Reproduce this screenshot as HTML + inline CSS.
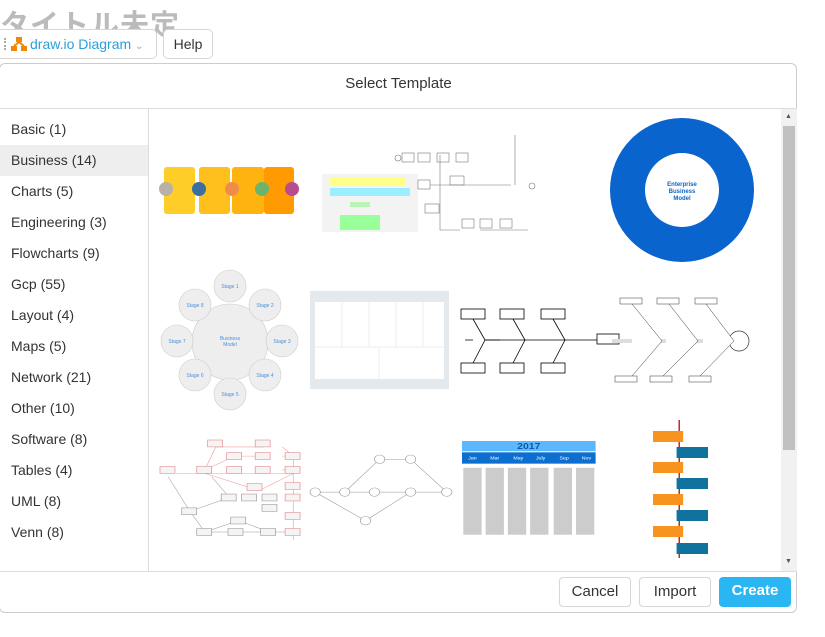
<!DOCTYPE html>
<html><head><meta charset="utf-8"><style>
*{margin:0;padding:0;box-sizing:border-box}
body{width:825px;height:637px;background:#fff;font-family:"Liberation Sans","Noto Sans CJK JP",sans-serif;position:relative;overflow:hidden}
.a{position:absolute}
.title{left:0;top:2px;font-size:29px;font-weight:bold;color:#bbb;letter-spacing:1px}
.btn{border:1px solid #d6d6d6;border-radius:5px;background:#fff}
.side div{height:31px;line-height:31px;padding-left:11px;font-size:14px;color:#333}
.fb{top:577px;height:30px;font-size:15px;text-align:center;line-height:28px;border-radius:4px}
</style></head><body>
<div class="a title">タイトル未定</div>
<div class="a btn" style="left:-6px;top:29px;width:163px;height:30px"></div>
<div class="a" style="left:4px;top:38px;width:2px;height:12px;border-left:2px dotted #aaa"></div>
<svg class="a" style="left:11px;top:37px" width="16" height="14"><rect x="5" y="0" width="6" height="5" fill="#f08705"/><rect x="0" y="9" width="6" height="5" fill="#f08705"/><rect x="10" y="9" width="6" height="5" fill="#f08705"/><path d="M8 5L3 9M8 5L13 9" stroke="#f08705" stroke-width="2"/></svg>
<div class="a" style="left:30px;top:36px;font-size:14px;color:#29a0da">draw.io Diagram <span style="color:#aaa;font-size:10px">&#8964;</span></div>
<div class="a btn" style="left:163px;top:29px;width:50px;height:30px;font-size:14px;line-height:28px;text-align:center;color:#333">Help</div>

<div class="a" style="left:-1px;top:63px;width:798px;height:550px;border:1px solid #ccc;border-radius:6px"></div>
<div class="a" style="left:0;top:75px;width:797px;text-align:center;font-size:15px;color:#333">Select Template</div>
<div class="a" style="left:0;top:108px;width:797px;border-top:1px solid #ddd"></div>
<div class="a" style="left:148px;top:109px;height:462px;border-left:1px solid #ddd"></div>
<div class="a" style="left:0;top:571px;width:797px;border-top:1px solid #ddd"></div>
<div class="a side" style="left:0;top:114px;width:148px">
<div>Basic (1)</div><div style="background:#eee">Business (14)</div><div>Charts (5)</div><div>Engineering (3)</div><div>Flowcharts (9)</div><div>Gcp (55)</div><div>Layout (4)</div><div>Maps (5)</div><div>Network (21)</div><div>Other (10)</div><div>Software (8)</div><div>Tables (4)</div><div>UML (8)</div><div>Venn (8)</div></div>
<div class="a" style="left:781px;top:109px;width:16px;height:462px;background:#f1f1f1"></div>
<div class="a" style="left:783px;top:126px;width:12px;height:324px;background:#c1c1c1"></div>
<div class="a" style="left:785px;top:113px;font-size:7px;color:#555">&#9650;</div>
<div class="a" style="left:785px;top:558px;font-size:7px;color:#555">&#9660;</div>

<svg class="a" style="left:150px;top:110px" width="630" height="460" font-family="Liberation Sans" font-size="4">
<!-- row1 -->
<rect x="14" y="57" width="31" height="47" rx="3" fill="#ffcd28"/><rect x="49" y="57" width="31" height="47" rx="3" fill="#ffc01e"/><rect x="82" y="57" width="32" height="47" rx="3" fill="#ffb30f"/><rect x="114" y="57" width="30" height="47" rx="3" fill="#ff9a00"/>
<circle cx="16" cy="79" r="7" fill="#b9b0a6"/><circle cx="49" cy="79" r="7" fill="#3a6fa0"/><circle cx="82" cy="79" r="7" fill="#ef8c4a"/><circle cx="112" cy="79" r="7" fill="#6cb46c"/><circle cx="142" cy="79" r="7" fill="#b94b8f"/>
<rect x="172" y="64" width="96" height="58" fill="#f3f3f3"/><rect x="180" y="67" width="76" height="8" fill="#ffff88"/><rect x="180" y="78" width="80" height="8" fill="#99eeff"/><rect x="190" y="105" width="40" height="15" fill="#99ff99"/><rect x="200" y="92" width="20" height="5" fill="#b6f5b6"/>
<g fill="none" stroke="#777" stroke-width=".6"><circle cx="248" cy="48" r="3"/><rect x="252" y="43" width="12" height="9"/><rect x="268" y="43" width="12" height="9"/><rect x="268" y="70" width="12" height="9"/><rect x="287" y="43" width="12" height="9"/><rect x="306" y="43" width="12" height="9"/><path d="M280 75H361M365 75V25M290 45V120H310M330 120H378"/><rect x="300" y="66" width="14" height="9"/><rect x="312" y="109" width="12" height="9"/><rect x="330" y="109" width="12" height="9"/><rect x="350" y="109" width="12" height="9"/><rect x="275" y="94" width="14" height="9"/><circle cx="382" cy="76" r="3"/></g>
<circle cx="532" cy="80" r="72" fill="#0a64cd"/><circle cx="532" cy="80" r="37" fill="#fff"/>
<text x="532" y="76" fill="#0a64cd" font-size="6" font-weight="bold" text-anchor="middle">Enterprise</text><text x="532" y="83" fill="#0a64cd" font-size="6" font-weight="bold" text-anchor="middle">Business</text><text x="532" y="90" fill="#0a64cd" font-size="6" font-weight="bold" text-anchor="middle">Model</text>
<!-- row2 -->
<g fill="#eee" stroke="#ccc" stroke-width=".6"><circle cx="80" cy="232" r="38"/><circle cx="80" cy="176" r="16"/><circle cx="115" cy="195" r="16"/><circle cx="132" cy="231" r="16"/><circle cx="115" cy="265" r="16"/><circle cx="80" cy="284" r="16"/><circle cx="45" cy="265" r="16"/><circle cx="27" cy="231" r="16"/><circle cx="45" cy="195" r="16"/></g>
<g fill="#4a90d9" text-anchor="middle" font-size="5"><text x="80" y="178">Stage 1</text><text x="115" y="197">Stage 2</text><text x="132" y="233">Stage 3</text><text x="115" y="267">Stage 4</text><text x="80" y="286">Stage 5</text><text x="45" y="267">Stage 6</text><text x="27" y="233">Stage 7</text><text x="45" y="197">Stage 8</text><text x="80" y="230">Business</text><text x="80" y="236">Model</text></g>
<rect x="160" y="181" width="139" height="98" fill="#e4e9ed"/><rect x="165" y="192" width="129" height="77" fill="#fff"/>
<g stroke="#ddd" stroke-width=".5"><path d="M192 192V237M219 192V237M246 192V237M273 192V237M165 237H294M229 237V269"/></g>
<g stroke="#000" stroke-width=".8" fill="#fff"><path d="M315 230H350"/><rect x="447" y="224" width="22" height="10"/><rect x="311" y="199" width="24" height="10"/><rect x="350" y="199" width="24" height="10"/><rect x="391" y="199" width="24" height="10"/><rect x="311" y="253" width="24" height="10"/><rect x="350" y="253" width="24" height="10"/><rect x="391" y="253" width="24" height="10"/><path d="M323 209L335 230L323 253M363 209L375 230L363 253M403 209L415 230L403 253M335 230H447"/></g>
<rect x="462" y="229" width="130" height="4" fill="#ddd"/><circle cx="589" cy="231" r="10" fill="#fff" stroke="#333" stroke-width=".7"/>
<g fill="#fff" stroke="#333" stroke-width=".5"><rect x="470" y="188" width="22" height="6"/><rect x="507" y="188" width="22" height="6"/><rect x="545" y="188" width="22" height="6"/><rect x="465" y="266" width="22" height="6"/><rect x="500" y="266" width="22" height="6"/><rect x="539" y="266" width="22" height="6"/><path d="M482 194L512 231L482 266M519 194L548 231L513 266M556 194L584 231L550 266"/></g>
<!-- row3 pert -->
<g transform="translate(10,330) scale(1.36,1.15) translate(-7,-333)">
<g stroke="#f4a0a0" stroke-width=".5" fill="none"><path d="M19 362H40M40 359L48 339H83M40 359L62 347H83M40 362H105M40 362L80 377L105 362M97 339L105 347M97 347H105M97 359H105M105 350V420"/></g>
<g stroke="#999" stroke-width=".4" fill="none"><path d="M13 365L29 395M29 395L58 383M29 395L40 413M40 413L65 403L87 413M40 413H105M45 365L58 383"/></g>
<g fill="#f4f4f4" stroke="#e08a8a" stroke-width=".5">
<rect x="7" y="356" width="11" height="6"/><rect x="42" y="333" width="11" height="6"/><rect x="77" y="333" width="11" height="6"/><rect x="56" y="344" width="11" height="6"/><rect x="77" y="344" width="11" height="6"/><rect x="99" y="344" width="11" height="6"/><rect x="34" y="356" width="11" height="6"/><rect x="56" y="356" width="11" height="6"/><rect x="77" y="356" width="11" height="6"/><rect x="99" y="356" width="11" height="6"/><rect x="71" y="371" width="11" height="6"/><rect x="99" y="370" width="11" height="6"/><rect x="99" y="380" width="11" height="6"/><rect x="99" y="396" width="11" height="6"/><rect x="99" y="410" width="11" height="6"/></g>
<g fill="#f4f4f4" stroke="#999" stroke-width=".5">
<rect x="23" y="392" width="11" height="6"/><rect x="52" y="380" width="11" height="6"/><rect x="67" y="380" width="11" height="6"/><rect x="82" y="380" width="11" height="6"/><rect x="82" y="389" width="11" height="6"/><rect x="59" y="400" width="11" height="6"/><rect x="34" y="410" width="11" height="6"/><rect x="57" y="410" width="11" height="6"/><rect x="81" y="410" width="11" height="6"/></g>
</g>
<!-- network -->
<g transform="translate(160,345) scale(1.29,1.06) translate(-124,-347)">
<g fill="#fff" stroke="#999" stroke-width=".5"><path d="M128 382H230M151 382L178 351H202L230 382M128 382L167 409L202 382"/>
<circle cx="128" cy="382" r="4"/><circle cx="151" cy="382" r="4"/><circle cx="174" cy="382" r="4"/><circle cx="178" cy="351" r="4"/><circle cx="202" cy="351" r="4"/><circle cx="202" cy="382" r="4"/><circle cx="230" cy="382" r="4"/><circle cx="167" cy="409" r="4"/></g>
</g>
<!-- timeline -->
<g transform="translate(312,331) scale(1.31,1.03) translate(-245,-331)">
<rect x="245" y="331" width="102" height="10" fill="#5bb8ff"/><text x="296" y="339" text-anchor="middle" font-size="8" font-weight="bold" fill="#0c56a6">2017</text>
<rect x="245" y="342" width="102" height="11" fill="#0c6fd0"/>
<g fill="#fff" font-size="4" text-anchor="middle"><text x="253" y="349">Jan</text><text x="270" y="349">Mar</text><text x="288" y="349">May</text><text x="305" y="349">July</text><text x="323" y="349">Sep</text><text x="340" y="349">Nov</text></g>
<g fill="#ccc"><rect x="246" y="357" width="14" height="65"/><rect x="263" y="357" width="14" height="65"/><rect x="280" y="357" width="14" height="65"/><rect x="297" y="357" width="14" height="65"/><rect x="315" y="357" width="14" height="65"/><rect x="332" y="357" width="14" height="65"/></g>
</g>
<g transform="translate(503,310) scale(1.31,1) translate(-393,-310)">
<path d="M413 310V448" stroke="#c00" stroke-width="1"/>
<g fill="#f7931e"><rect x="393" y="321" width="23" height="11"/><rect x="393" y="352" width="23" height="11"/><rect x="393" y="384" width="23" height="11"/><rect x="393" y="416" width="23" height="11"/></g>
<g fill="#10739e"><rect x="411" y="337" width="24" height="11"/><rect x="411" y="368" width="24" height="11"/><rect x="411" y="400" width="24" height="11"/><rect x="411" y="433" width="24" height="11"/></g>
</g>
</svg>
<div class="a btn fb" style="left:559px;width:72px;color:#333">Cancel</div>
<div class="a btn fb" style="left:639px;width:72px;color:#333">Import</div>
<div class="a fb" style="left:719px;width:72px;background:#29b6f2;color:#fff;font-weight:bold">Create</div>
</body></html>
